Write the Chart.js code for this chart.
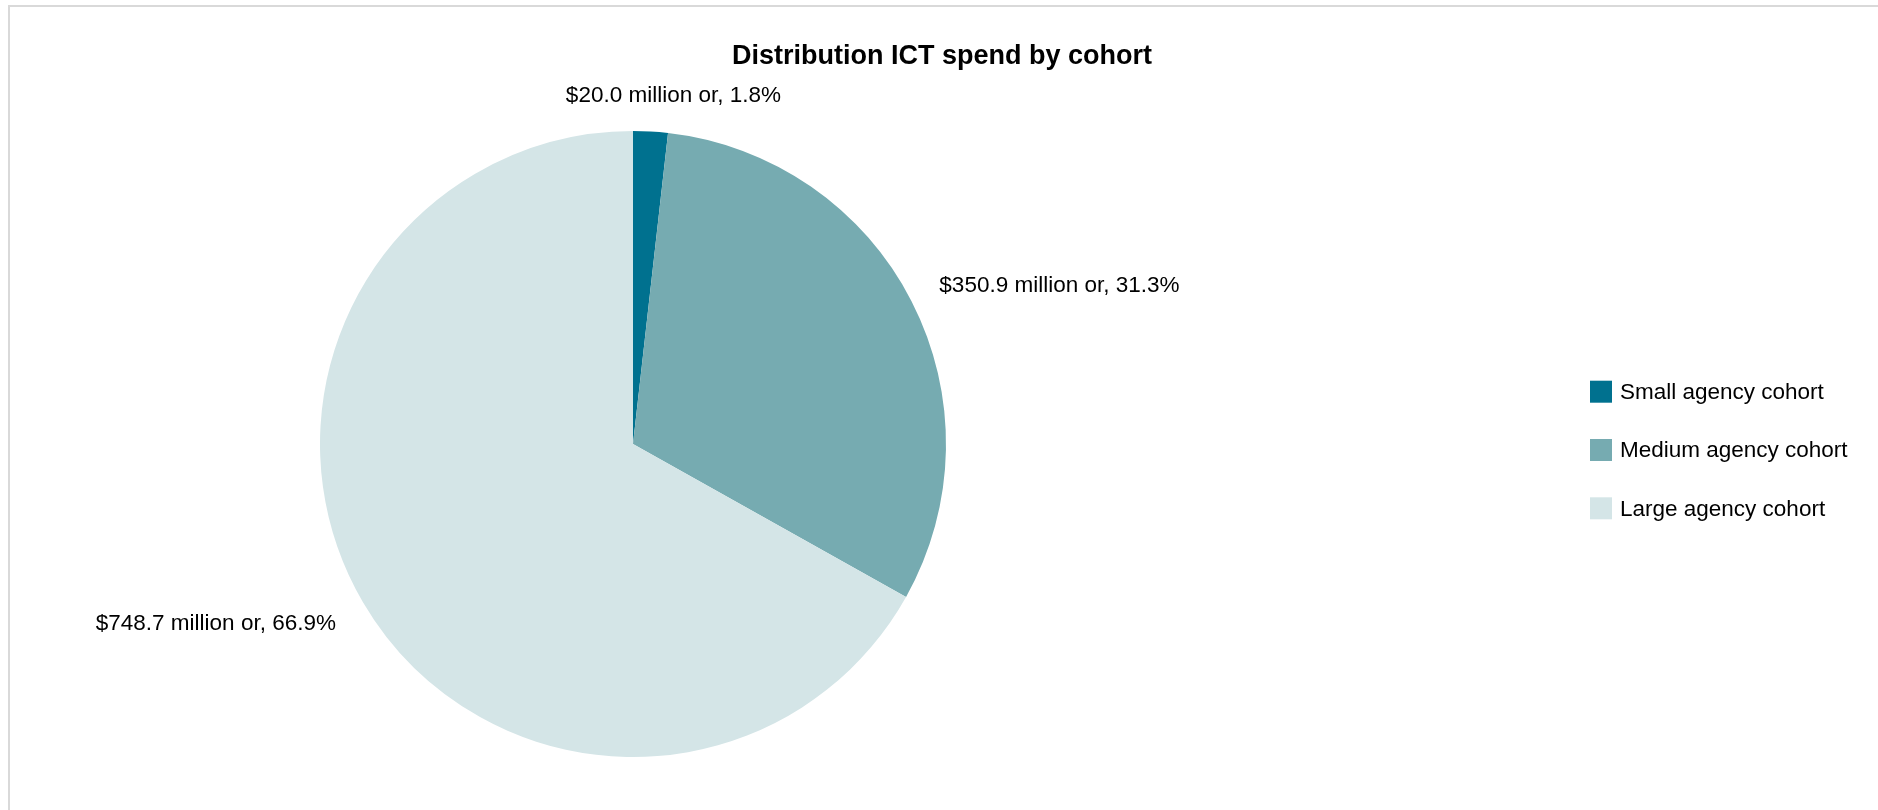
<!DOCTYPE html>
<html>
<head>
<meta charset="utf-8">
<title>Distribution ICT spend by cohort</title>
<script src="https://cdn.jsdelivr.net/npm/chart.js@4/dist/chart.umd.min.js"></script>
<style>
  html, body { margin: 0; padding: 0; background: #ffffff; }
  #wrap { position: relative; width: 1878px; height: 810px; overflow: hidden; }
  #frame {
    position: absolute; left: 8px; top: 5px; width: 1900px; height: 900px;
    border-top: 2px solid #d9d9d9; border-left: 2px solid #d9d9d9;
    box-sizing: border-box; pointer-events: none;
  }
  canvas { position: absolute; left: 0; top: 0; }
</style>
</head>
<body>
<div id="wrap">
  <canvas id="c" width="1878" height="810"></canvas>
  <div id="frame"></div>
</div>
<script>
// Cohorts and their ICT spend ($ million)
const cohorts = ['Small agency cohort', 'Medium agency cohort', 'Large agency cohort'];
const spendMillions = [20.0, 350.9, 748.7];
const cohortColours = ['#00718f', '#76abb1', '#d4e5e7'];
const chartTitle = 'Distribution ICT spend by cohort';

const FONT = '"Liberation Sans", Arial, sans-serif';

const total = spendMillions.reduce((a, b) => a + b, 0);
const labelText = (v) => '$' + v.toFixed(1) + ' million or, ' + (v / total * 100).toFixed(1) + '%';
const clamp = (v, lo, hi) => Math.max(lo, Math.min(hi, v));

// Title, outside-end value labels and the right-hand legend
const decorations = {
  id: 'decorations',
  afterDraw(chart) {
    const ctx = chart.ctx;
    ctx.save();

    // Title
    ctx.fillStyle = '#000000';
    ctx.font = 'bold 27px ' + FONT;
    ctx.textAlign = 'center';
    ctx.textBaseline = 'alphabetic';
    ctx.fillText(chartTitle, 942, 64);

    // Value labels, placed outside each slice along its mid-angle
    ctx.font = '22.5px ' + FONT;
    ctx.textAlign = 'center';
    ctx.textBaseline = 'middle';
    const meta = chart.getDatasetMeta(0);
    meta.data.forEach((arc, i) => {
      const p = arc.getProps(['x', 'y', 'startAngle', 'endAngle', 'outerRadius'], true);
      const mid = (p.startAngle + p.endAngle) / 2;
      const dx = Math.cos(mid), dy = Math.sin(mid);
      const R = p.outerRadius * 1.1;
      const txt = labelText(spendMillions[i]);
      const w = ctx.measureText(txt).width;
      const h = 22;
      const cx = p.x + dx * R + (w / 2) * clamp(3.5 * dx, -1, 1);
      const cy = p.y + dy * R + dy * h * 0.3 + 2;
      ctx.fillText(txt, cx, cy);
    });

    // Legend
    const box = 22, gap = 58.3, lx = 1590;
    const ly0 = 450 - gap * (cohorts.length - 1) / 2;
    ctx.textAlign = 'left';
    ctx.textBaseline = 'middle';
    ctx.font = '22.5px ' + FONT;
    cohorts.forEach((name, i) => {
      const y = ly0 + i * gap;
      ctx.fillStyle = cohortColours[i];
      ctx.fillRect(lx, y - box / 2, box, box);
      ctx.fillStyle = '#000000';
      ctx.fillText(name, lx + box + 8, y + 1);
    });

    ctx.restore();
  }
};

new Chart(document.getElementById('c'), {
  type: 'pie',
  data: {
    labels: cohorts,
    datasets: [{
      data: spendMillions,
      backgroundColor: cohortColours,
      borderWidth: 0,
      hoverOffset: 0
    }]
  },
  options: {
    responsive: false,
    animation: false,
    events: [],
    layout: { padding: { left: 320, right: 932, top: 131, bottom: 53 } },
    plugins: {
      legend: { display: false },
      title: { display: false },
      tooltip: { enabled: false }
    }
  },
  plugins: [decorations]
});
</script>
</body>
</html>
